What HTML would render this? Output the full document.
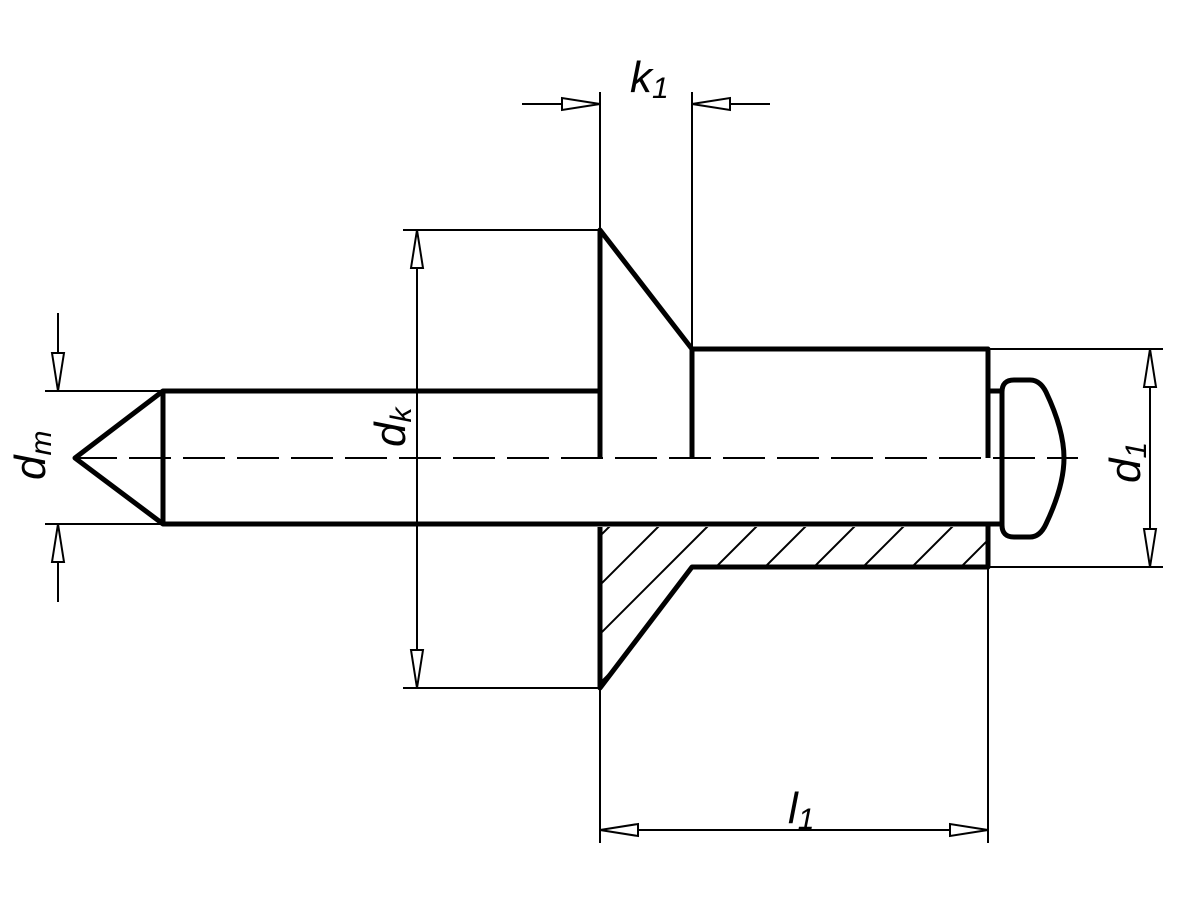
<!DOCTYPE html>
<html><head><meta charset="utf-8"><style>html,body{margin:0;padding:0;background:#fff;overflow:hidden;width:1187px;height:900px}svg{display:block}</style></head>
<body>
<svg width="1187" height="900" viewBox="0 0 1187 900" xmlns="http://www.w3.org/2000/svg">
<defs>
<clipPath id="hc"><polygon points="600,527 988,527 988,567 692,567 600,688"/></clipPath>
</defs>
<g stroke="#000" fill="none">
<g clip-path="url(#hc)" stroke-width="2">
<line x1="436" y1="700" x2="616" y2="520"/>
<line x1="485" y1="700" x2="665" y2="520"/>
<line x1="534" y1="700" x2="714" y2="520"/>
<line x1="583" y1="700" x2="763" y2="520"/>
<line x1="632" y1="700" x2="812" y2="520"/>
<line x1="681" y1="700" x2="861" y2="520"/>
<line x1="730" y1="700" x2="910" y2="520"/>
<line x1="779" y1="700" x2="959" y2="520"/>
<line x1="828" y1="700" x2="1008" y2="520"/>
</g>
<line x1="75" y1="458" x2="1078" y2="458" stroke-width="2" stroke-dasharray="42,12"/>
<g stroke-width="5" stroke-linejoin="round">
<polyline points="600,391 163,391 75,458 163,524 1003,524"/>
<line x1="163" y1="391" x2="163" y2="524"/>
<polyline points="600,458 600,230 692,349 692,458"/>
<polyline points="692,349 988,349 988,458"/>
<polyline points="600,527 600,688 692,567 988,567 988,524"/>
<line x1="988" y1="391" x2="1002" y2="391"/>
<path d="M1014,380 L1030,380 Q1040,380 1046,392 Q1064,430 1064,458 Q1064,486 1046,524 Q1040,537 1030,537 L1014,537 Q1002,537 1002,525 L1002,392 Q1002,380 1014,380 Z"/>
</g>
<g stroke-width="2">
<line x1="45" y1="391" x2="163" y2="391"/>
<line x1="45" y1="524" x2="163" y2="524"/>
<line x1="58" y1="313" x2="58" y2="391"/>
<line x1="58" y1="524" x2="58" y2="602"/>
<line x1="403" y1="230" x2="600" y2="230"/>
<line x1="403" y1="688" x2="600" y2="688"/>
<line x1="417" y1="230" x2="417" y2="688"/>
<line x1="600" y1="92" x2="600" y2="230"/>
<line x1="692" y1="92" x2="692" y2="349"/>
<line x1="522" y1="104" x2="600" y2="104"/>
<line x1="692" y1="104" x2="770" y2="104"/>
<line x1="988" y1="349" x2="1163" y2="349"/>
<line x1="988" y1="567" x2="1163" y2="567"/>
<line x1="1150" y1="349" x2="1150" y2="567"/>
<line x1="600" y1="688" x2="600" y2="843"/>
<line x1="988" y1="567" x2="988" y2="843"/>
<line x1="600" y1="830" x2="988" y2="830"/>
</g>
<g stroke-width="2" fill="#fff">
<polygon points="58,391 52,353 64,353"/>
<polygon points="58,524 52,562 64,562"/>
<polygon points="417,230 411,268 423,268"/>
<polygon points="417,688 411,650 423,650"/>
<polygon points="600,104 562,98 562,110"/>
<polygon points="692,104 730,98 730,110"/>
<polygon points="1150,349 1144,387 1156,387"/>
<polygon points="1150,567 1144,529 1156,529"/>
<polygon points="600,830 638,824 638,836"/>
<polygon points="988,830 950,824 950,836"/>
</g>
</g>
<g font-family="Liberation Sans, sans-serif" font-style="italic" fill="#000">
<text x="630" y="92" font-size="44">k<tspan font-size="30" dy="6">1</tspan></text>
<text x="788" y="823" font-size="44">l<tspan font-size="30" dy="6">1</tspan></text>
<text transform="translate(45,480) rotate(-90)" font-size="44">d<tspan font-size="30" dy="6">m</tspan></text>
<text transform="translate(405,447) rotate(-90)" font-size="44">d<tspan font-size="30" dy="6">k</tspan></text>
<text transform="translate(1140,483) rotate(-90)" font-size="44">d<tspan font-size="30" dy="6">1</tspan></text>
</g>
</svg>
</body></html>
